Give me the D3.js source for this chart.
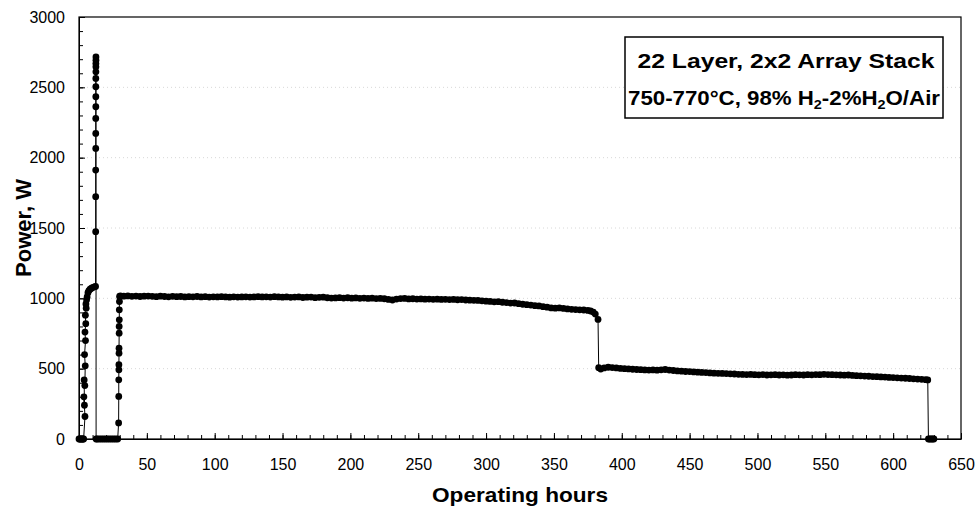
<!DOCTYPE html>
<html>
<head>
<meta charset="utf-8">
<script src="https://cdn.jsdelivr.net/npm/d3@7"></script>
<style>
  body { margin: 0; background: #fff; }
  text { font-family: "Liberation Sans", Arial, sans-serif; }
  .axis path, .axis line { stroke: #000; }
  .axis text { font-size: 16px; fill: #000; }
</style>
</head>
<body>
<div id="chart"></div>
<script>

// startup ramp, hours / watts
const startupHours = [0, 0.6, 1.2, 1.8, 2.4, 3.0, 3.4, 4.4, 3.6, 4.0, 3.8, 4.3, 4.6, 4.1, 4.8, 4.4, 5.0, 4.7, 5.3, 5.1, 5.6, 6.0, 6.6, 7.3, 8.2, 9.2, 10.3, 11.4, 12.2];
const startupPower = [0, 0, 0, 0, 0, 0, 0, 160, 300, 240, 420, 380, 520, 600, 700, 760, 820, 880, 930, 960, 990, 1010, 1040, 1055, 1065, 1072, 1078, 1082, 1085];

// peak power test
const spikeHours = [12.3, 12.3, 12.3, 12.35, 12.35, 12.35, 12.4, 12.4, 12.4, 12.4, 12.45, 12.45, 12.45, 12.5, 12.5];
const spikePower = [1474, 1723, 1912, 2066, 2172, 2279, 2362, 2433, 2504, 2563, 2610, 2646, 2669, 2693, 2716];

// off period and restart
const restartHours = [12.6, 13.5, 15, 16.5, 18, 19.5, 21, 22.5, 24, 25.5, 27, 28.5, 29.2, 29.3, 29.3, 29.4, 29.4, 29.5, 29.5, 29.6, 29.6, 29.7, 29.7, 29.8, 29.9];
const restartPower = [0, 0, 0, 0, 0, 0, 0, 0, 0, 0, 0, 0, 114, 303, 421, 492, 528, 610, 646, 752, 800, 847, 918, 977, 1013];

// first long run (~1 kW)
const run1Hours = [30.5, 33, 36, 39, 42, 45, 48, 51, 54, 57, 60, 63, 66, 69, 72, 75, 78, 81, 84, 87, 90, 93, 96, 99,
  102, 105, 108, 111, 114, 117, 120, 123, 126, 129, 132, 135, 138, 141, 144, 147, 150, 153, 156, 159, 162, 165, 168,
  171, 174, 177, 180, 183, 186, 189, 192, 195, 198, 201, 204, 207, 210, 213, 216, 219, 222, 225, 228, 231, 234, 237,
  240, 243, 246, 249, 252, 255, 258, 261, 264, 267, 270, 273, 276, 279, 282, 285, 288, 291, 294, 297, 300, 303, 306,
  309, 312, 315, 318, 321, 324, 327, 330, 333, 336, 339, 342, 345, 348, 351, 354, 357, 360, 363, 366, 369, 372, 375,
  377, 379, 380.5, 382.5];
const run1Power = [1018, 1015, 1017, 1014, 1016, 1013, 1015, 1016, 1014, 1012, 1015, 1013, 1011, 1014, 1012, 1013, 1010, 1012, 1011, 1013, 1010, 1012, 1009, 1011,
  1010, 1012, 1010, 1008, 1011, 1009, 1010, 1011, 1009, 1010, 1012, 1010, 1011, 1009, 1012, 1010, 1008, 1010, 1007, 1009, 1010, 1006, 1008,
  1009, 1005, 1007, 1008, 1004, 1002, 1003, 1005, 1002, 1004, 1001, 1003, 1000, 1002, 999, 1001, 998, 999, 997, 992, 988, 995, 998,
  999, 996, 997, 995, 996, 994, 995, 993, 994, 992, 993, 991, 992, 990, 991, 988, 987, 986, 985, 982, 980, 978, 975,
  976, 972, 970, 966, 967, 962, 958, 955, 952, 948, 946, 941, 937, 932, 930, 932, 928, 925, 922, 920, 918, 917, 914,
  910, 902, 888, 850];

// second run (~0.5 kW)
const run2Hours = [383, 384.5, 387, 390, 393, 396, 399, 402, 405, 408, 411, 414, 417, 420, 423, 426, 429, 432, 435, 438,
  441, 444, 447, 450, 453, 456, 459, 462, 465, 468, 471, 474, 477, 480, 483, 486, 489, 492, 495, 498, 501, 504, 507,
  510, 513, 516, 519, 522, 525, 528, 531, 534, 537, 540, 543, 546, 549, 552, 555, 558, 561, 564, 567, 570, 573, 576,
  579, 582, 585, 588, 591, 594, 597, 600, 603, 606, 609, 612, 615, 618, 621, 624, 625.5];
const run2Power = [507, 497, 505, 510, 508, 505, 502, 500, 498, 496, 494, 493, 491, 490, 491, 489, 492, 494, 490, 487,
  484, 482, 480, 479, 477, 475, 473, 472, 470, 468, 467, 466, 465, 463, 462, 460, 459, 458, 459, 457, 456, 458, 455,
  456, 457, 455, 456, 454, 455, 457, 456, 455, 457, 456, 458, 457, 460, 458, 457, 456, 455, 454, 455, 452, 450, 449,
  447, 446, 444, 443, 441, 440, 438, 437, 435, 433, 432, 430, 428, 426, 424, 422, 420];

// shutdown
const shutHours = [626, 627, 628, 629, 630];
const shutPower = [0, 0, 0, 0, 0];

const xTicks = [0, 50, 100, 150, 200, 250, 300, 350, 400, 450, 500, 550, 600, 650];
const yTicks = [0, 500, 1000, 1500, 2000, 2500, 3000];

const hours = [].concat(startupHours, spikeHours, restartHours, run1Hours, run2Hours, shutHours);
const power = [].concat(startupPower, spikePower, restartPower, run1Power, run2Power, shutPower);
const data = hours.map((h, i) => ({h: h, p: power[i]}));

const W = 978, H = 510;
const margin = {top: 17, right: 17, bottom: 71, left: 79};
const width = W - margin.left - margin.right;
const height = H - margin.top - margin.bottom;

const svg = d3.select("#chart").append("svg")
  .attr("width", W)
  .attr("height", H);

const g = svg.append("g")
  .attr("transform", "translate(" + margin.left + "," + margin.top + ")");

const x = d3.scaleLinear().domain([0, 650]).range([0, width]);
const y = d3.scaleLinear().domain([0, 3000]).range([height, 0]);

// faint dotted gridlines
g.append("g").selectAll("line")
  .data(yTicks.slice(1, -1))
  .join("line")
  .attr("x1", 0).attr("x2", width)
  .attr("y1", d => y(d)).attr("y2", d => y(d))
  .attr("stroke", "#d8d8d8")
  .attr("stroke-dasharray", "1,3");

// minor ticks
g.append("g")
  .attr("class", "axis")
  .attr("transform", "translate(0," + height + ")")
  .call(d3.axisBottom(x).tickValues(d3.range(0, 651, 10)).tickSize(-4).tickFormat(""))
  .call(s => s.select(".domain").remove());

g.append("g")
  .attr("class", "axis")
  .call(d3.axisLeft(y).tickValues(d3.range(0, 3001, 100)).tickSize(-4).tickFormat(""))
  .call(s => s.select(".domain").remove());

// major ticks with labels
g.append("g")
  .attr("class", "axis")
  .attr("transform", "translate(0," + height + ")")
  .call(d3.axisBottom(x).tickValues(xTicks).tickSize(-6).tickSizeOuter(0).tickPadding(20).tickFormat(d3.format("d")));

g.append("g")
  .attr("class", "axis")
  .call(d3.axisLeft(y).tickValues(yTicks).tickSize(-6).tickSizeOuter(0).tickPadding(14).tickFormat(d3.format("d")));

// plot frame
g.append("rect")
  .attr("width", width)
  .attr("height", height)
  .attr("fill", "none")
  .attr("stroke", "#000")
  .attr("stroke-width", 1.2);

// series
const line = d3.line().x(d => x(d.h)).y(d => y(d.p));

g.append("path")
  .datum(data)
  .attr("d", line)
  .attr("fill", "none")
  .attr("stroke", "#000")
  .attr("stroke-width", 1);

g.selectAll(".dot")
  .data(data)
  .join("circle")
  .attr("class", "dot")
  .attr("cx", d => x(d.h))
  .attr("cy", d => y(d.p))
  .attr("r", 3.4)
  .attr("fill", "#000");

// axis titles
svg.append("text")
  .attr("x", 520)
  .attr("y", 502)
  .attr("text-anchor", "middle")
  .attr("font-size", 21)
  .attr("font-weight", "bold")
  .attr("textLength", 176)
  .attr("lengthAdjust", "spacingAndGlyphs")
  .text("Operating hours");

svg.append("text")
  .attr("transform", "translate(31,228) rotate(-90)")
  .attr("text-anchor", "middle")
  .attr("font-size", 22)
  .attr("font-weight", "bold")
  .text("Power, W");

// legend box
svg.append("rect")
  .attr("x", 625).attr("y", 37)
  .attr("width", 318).attr("height", 81)
  .attr("fill", "#fff")
  .attr("stroke", "#000")
  .attr("stroke-width", 1.5);

svg.append("text")
  .attr("x", 786).attr("y", 68)
  .attr("text-anchor", "middle")
  .attr("font-size", 21)
  .attr("font-weight", "bold")
  .attr("textLength", 297)
  .attr("lengthAdjust", "spacingAndGlyphs")
  .text("22 Layer, 2x2 Array Stack");

const t2 = svg.append("text")
  .attr("x", 784).attr("y", 105)
  .attr("text-anchor", "middle")
  .attr("font-size", 20)
  .attr("font-weight", "bold")
  .attr("textLength", 312)
  .attr("lengthAdjust", "spacingAndGlyphs");
t2.append("tspan").text("750-770°C, 98% H");
t2.append("tspan").attr("font-size", 13).attr("dy", 4).text("2");
t2.append("tspan").attr("dy", -4).text("-2%H");
t2.append("tspan").attr("font-size", 13).attr("dy", 4).text("2");
t2.append("tspan").attr("dy", -4).text("O/Air");

</script>
</body>
</html>
